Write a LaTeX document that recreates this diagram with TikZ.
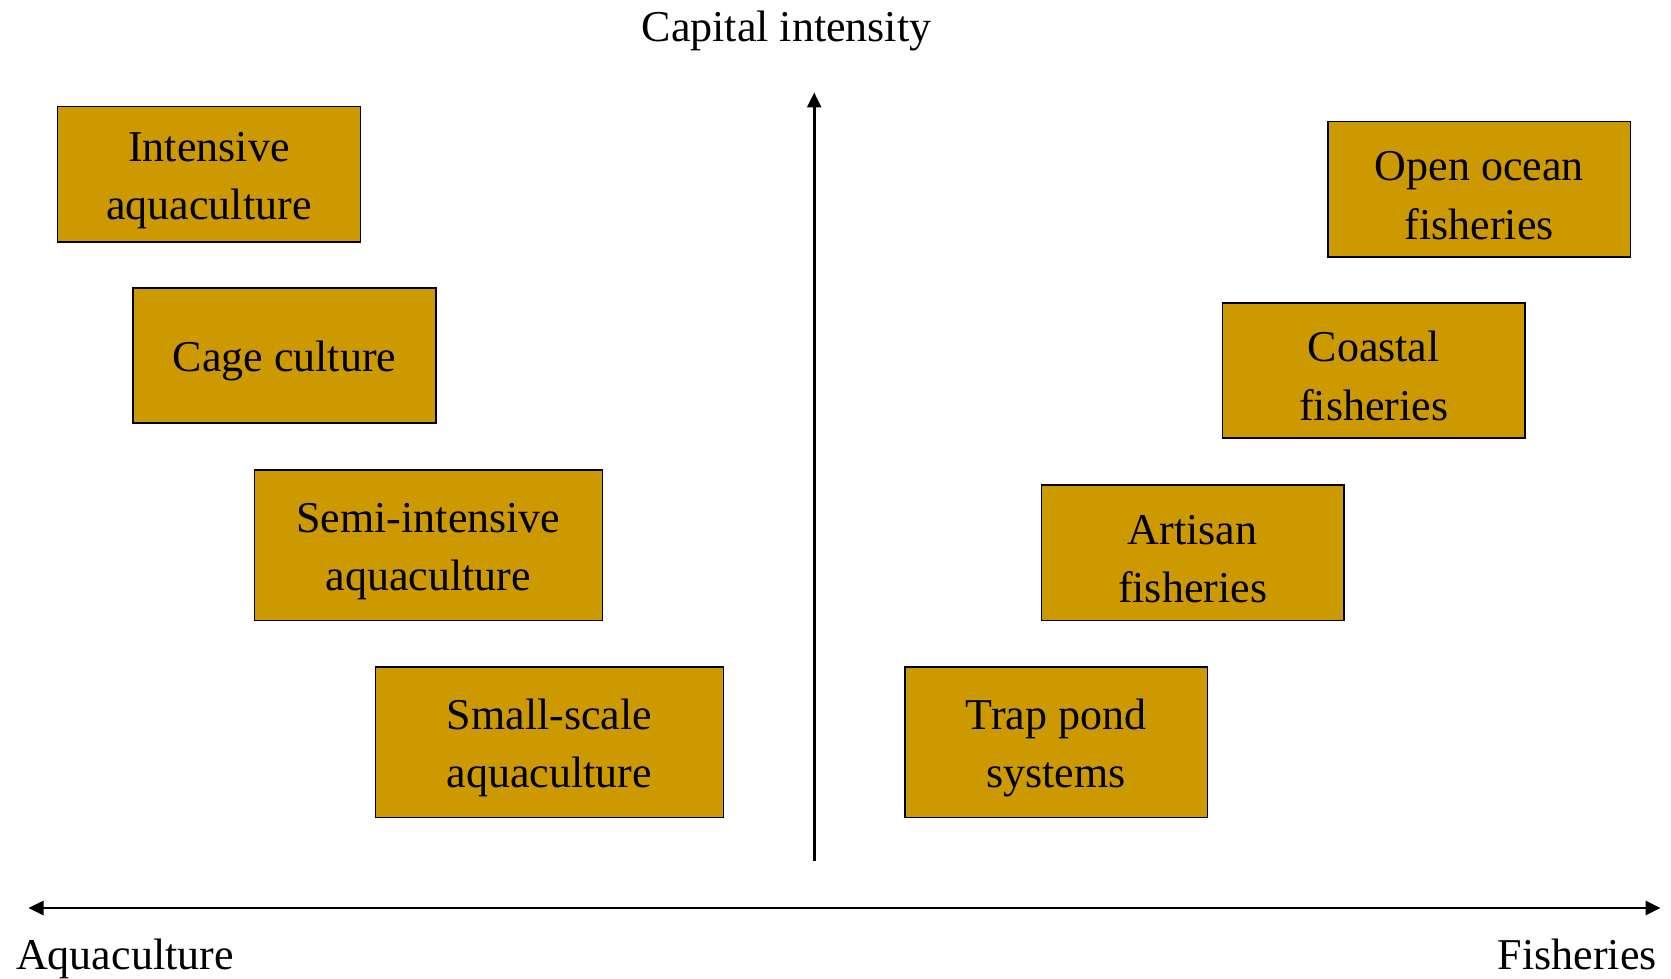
\documentclass[tikz,border=0pt]{standalone}
\usepackage{fontspec}
\setmainfont{Liberation Serif}
\usetikzlibrary{arrows.meta,positioning}

\definecolor{boxgold}{HTML}{CC9900}
\newcommand\boxstrut{\rule{0pt}{42pt}}

\begin{document}
\begin{tikzpicture}[%
    x=1pt, y=-1pt,                          % Work in picture pixels, top-down
    >={Triangle[length=15pt,width=14pt]},   % Solid arrow heads
    font=\fontsize{44}{58.6}\selectfont,
    ]
% -------------------------------------------------
% Box and axis styles
\tikzset{
  base/.style={draw, line width=1.5pt, fill=boxgold, align=center},
  narrow/.style={base, minimum width=302.7pt, minimum height=135.3pt},
  wide/.style={base, minimum width=348pt, minimum height=150.3pt},
  axis/.style={<->, line width=2.6pt},
  lbl/.style={inner sep=0pt}
}
\useasboundingbox (0,0) rectangle (1671,979);
% -------------------------------------------------
% Aquaculture side
\node [narrow] (intens) at (208.9,174.3) {\boxstrut Intensive\\aquaculture};
\node [narrow] (cage)   at (284.5,355.4) {\boxstrut Cage culture};
\node [wide]   (semi)   at (428.4,545.1) {\boxstrut Semi-intensive\\aquaculture};
\node [wide]   (small)  at (549.4,742.3) {\boxstrut Small-scale\\aquaculture};
% Fisheries side
\node [narrow] (ocean)   at (1479.2,189.2) {\boxstrut Open ocean\\fisheries};
\node [narrow] (coastal) at (1373.7,370.4) {\boxstrut Coastal\\fisheries};
\node [narrow] (artisan) at (1192.6,552.6) {\boxstrut Artisan\\fisheries};
\node [narrow, minimum height=150.3pt] (trap) at (1056.1,742.3) {\boxstrut Trap pond\\systems};

% -------------------------------------------------
% Axes
\coordinate (vbot) at (814.2,861);
\coordinate (vtop) at (814.2,92.5);
\coordinate (aqend) at (28.5,908);
\coordinate (fishend) at (1660.5,908);
\draw [->, line width=2.6pt] (vbot) -- (vtop);
\draw [axis] (aqend) -- (fishend);

\node [lbl] (capital) at (786.5,31) {Capital intensity};
\node [lbl, anchor=west] (aqlabel) at (16,959) {Aquaculture};
\node [lbl, anchor=east] (fishlabel) at (1657,954) {Fisheries};
% -------------------------------------------------
\end{tikzpicture}
\end{document}
